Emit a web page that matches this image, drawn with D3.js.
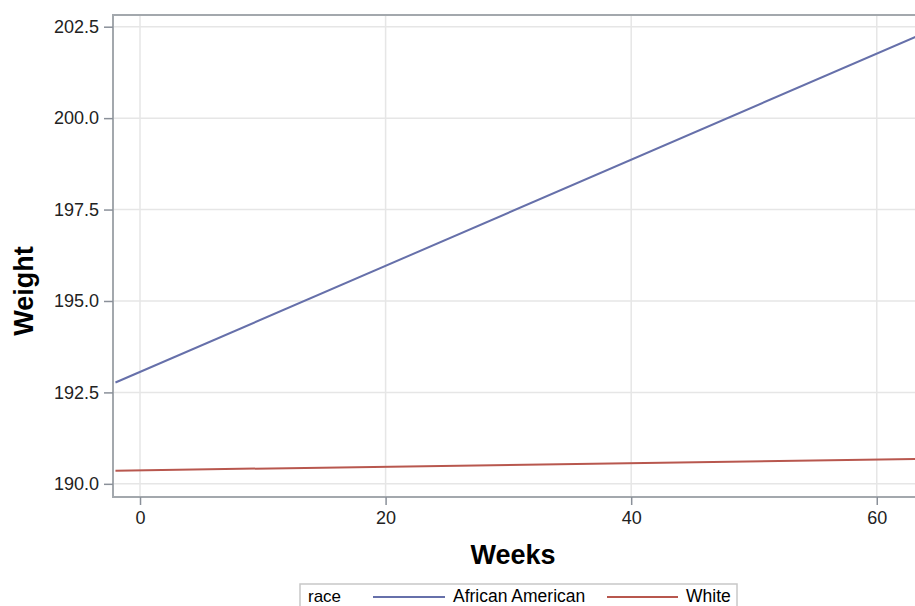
<!DOCTYPE html>
<html>
<head>
<meta charset="utf-8">
<script src="https://cdn.jsdelivr.net/npm/d3@7"></script>
<style>
  html, body { margin: 0; padding: 0; background: #fff; }
  svg { display: block; font-family: "Liberation Sans", Arial, sans-serif; }
</style>
</head>
<body>
<svg id="chart" width="915" height="606"></svg>
<script>
// ---- data ----
const seriesNames = ["African American", "White"];
const weeks = [-2, 65];
const africanAmerican = [192.77, 202.49];
const white = [190.36, 190.69];
const xTicks = [0, 20, 40, 60];
const yTicks = [190.0, 192.5, 195.0, 197.5, 200.0, 202.5];
const colors = ["#6670AA", "#B8574E"];

const svg = d3.select("#chart");
const plot = { left: 113, top: 15, right: 940, bottom: 497 };

const x = d3.scaleLinear().domain([-2.2, 65.15]).range([plot.left, plot.right]);
const y = d3.scaleLinear().domain([189.64, 202.82]).range([plot.bottom, plot.top]);

// gridlines
const grid = svg.append("g");
grid.selectAll("line.gx").data(xTicks).join("line")
  .attr("x1", d => x(d)).attr("x2", d => x(d))
  .attr("y1", plot.top).attr("y2", plot.bottom)
  .attr("stroke", "#e6e6e6").attr("stroke-width", 1.5);
grid.selectAll("line.gy").data(yTicks).join("line")
  .attr("x1", plot.left).attr("x2", plot.right)
  .attr("y1", d => y(d)).attr("y2", d => y(d))
  .attr("stroke", "#e6e6e6").attr("stroke-width", 1.5);

// lines
svg.append("clipPath").attr("id", "clip").append("rect")
  .attr("x", plot.left).attr("y", plot.top)
  .attr("width", plot.right - plot.left).attr("height", plot.bottom - plot.top);
const line = d3.line().x(d => x(d[0])).y(d => y(d[1]));
const seriesData = [africanAmerican, white];
svg.append("g").attr("clip-path", "url(#clip)")
  .selectAll("path").data(seriesData).join("path")
  .attr("d", vals => line(weeks.map((w, i) => [w, vals[i]])))
  .attr("fill", "none")
  .attr("stroke", (d, i) => colors[i])
  .attr("stroke-width", 2);

// frame
svg.append("rect")
  .attr("x", plot.left).attr("y", plot.top)
  .attr("width", plot.right - plot.left).attr("height", plot.bottom - plot.top)
  .attr("fill", "none").attr("stroke", "#a3a8ad").attr("stroke-width", 2);

// axes
const xAxis = d3.axisBottom(x).tickValues(xTicks).tickFormat(d3.format("d"))
  .tickSize(8).tickPadding(6);
const gx = svg.append("g").attr("transform", `translate(0,${plot.bottom})`).call(xAxis);
gx.select(".domain").remove();
gx.selectAll(".tick line").attr("stroke", "#8a9099").attr("stroke-width", 1.5);
gx.selectAll(".tick text").attr("font-size", 18).attr("fill", "#222")
  .attr("font-family", "Liberation Sans, Arial, sans-serif");

const yAxis = d3.axisLeft(y).tickValues(yTicks).tickFormat(d3.format(".1f"))
  .tickSize(9).tickPadding(5);
const gy = svg.append("g").attr("transform", `translate(${plot.left},0)`).call(yAxis);
gy.select(".domain").remove();
gy.selectAll(".tick line").attr("stroke", "#8a9099").attr("stroke-width", 1.5);
gy.selectAll(".tick text").attr("font-size", 18).attr("fill", "#222")
  .attr("font-family", "Liberation Sans, Arial, sans-serif");

// axis labels
svg.append("text").attr("x", 513).attr("y", 564)
  .attr("text-anchor", "middle").attr("font-weight", "bold").attr("font-size", 27)
  .attr("fill", "#000").text("Weeks");
svg.append("text").attr("transform", "translate(33,291) rotate(-90)")
  .attr("text-anchor", "middle").attr("font-weight", "bold").attr("font-size", 27)
  .attr("fill", "#000").text("Weight");

// legend
const lg = svg.append("g");
lg.append("rect").attr("x", 300).attr("y", 584).attr("width", 437).attr("height", 40)
  .attr("fill", "#fff").attr("stroke", "#c8c8c8").attr("stroke-width", 1.5);
lg.append("text").attr("x", 308).attr("y", 602).attr("font-size", 17).attr("fill", "#000").text("race");
const legendItems = [
  { name: seriesNames[0], x1: 373, x2: 445, tx: 453 },
  { name: seriesNames[1], x1: 607, x2: 678, tx: 686 }
];
legendItems.forEach((it, i) => {
  lg.append("line").attr("x1", it.x1).attr("x2", it.x2).attr("y1", 597).attr("y2", 597)
    .attr("stroke", colors[i]).attr("stroke-width", 2);
  lg.append("text").attr("x", it.tx).attr("y", 602).attr("font-size", 17.5)
    .attr("fill", "#000").text(it.name);
});
</script>
</body>
</html>
